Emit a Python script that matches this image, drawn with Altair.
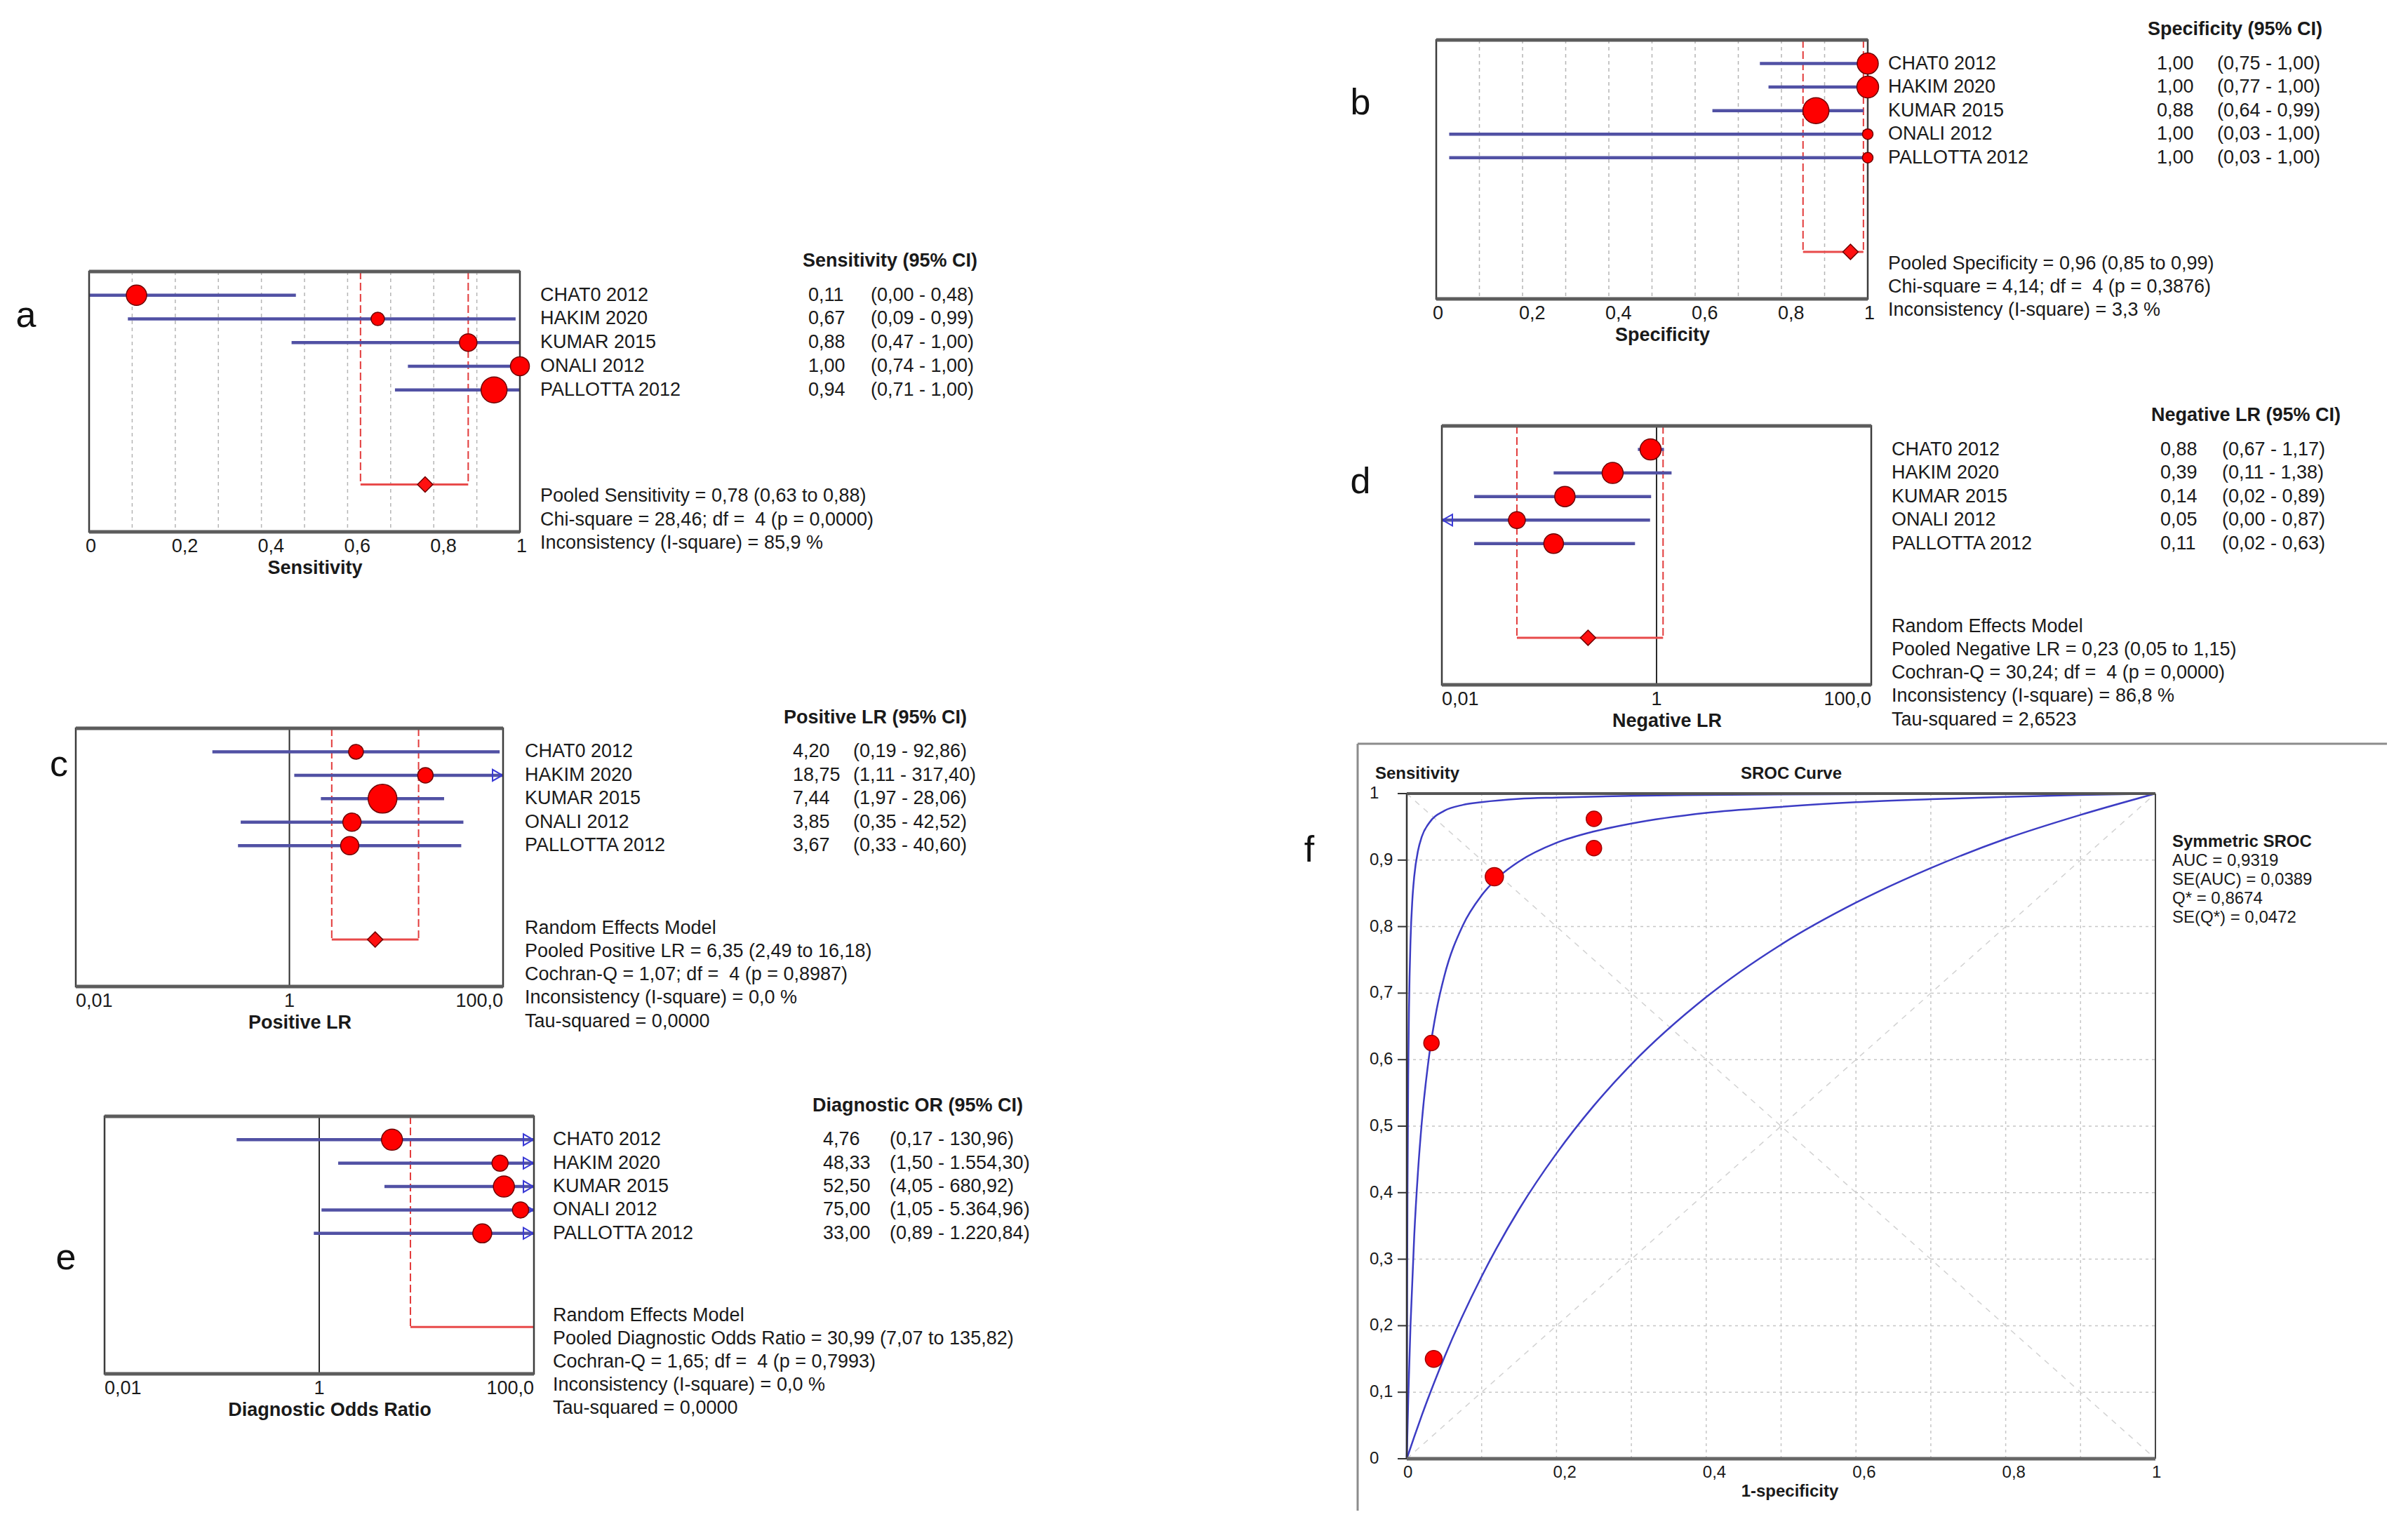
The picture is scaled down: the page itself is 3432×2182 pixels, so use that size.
import altair as alt
import pandas as pd

O = 8  # page margin of the html page
FONT = "Liberation Sans"
TXT = "#1a1a1a"
FS = 27
NB = "\u00a0"

# ---------------- data ----------------
STUDIES = ["CHAT0 2012", "HAKIM 2020", "KUMAR 2015", "ONALI 2012", "PALLOTTA 2012"]

SENS_EST = [0.11, 0.67, 0.88, 1.00, 0.94]
SENS_LO = [0.00, 0.09, 0.47, 0.74, 0.71]
SENS_HI = [0.48, 0.99, 1.00, 1.00, 1.00]
SENS_DIAM = [29, 19, 25, 27, 37]
SENS_POOLED = [0.78, 0.63, 0.88]
SENS_STATS = ["Pooled Sensitivity = 0,78 (0,63 to 0,88)",
              "Chi-square = 28,46; df =" + NB + " 4 (p = 0,0000)",
              "Inconsistency (I-square) = 85,9 %"]

SPEC_EST = [1.00, 1.00, 0.88, 1.00, 1.00]
SPEC_LO = [0.75, 0.77, 0.64, 0.03, 0.03]
SPEC_HI = [1.00, 1.00, 0.99, 1.00, 1.00]
SPEC_DIAM = [30, 31, 37, 15, 15]
SPEC_POOLED = [0.96, 0.85, 0.99]
SPEC_STATS = ["Pooled Specificity = 0,96 (0,85 to 0,99)",
              "Chi-square = 4,14; df =" + NB + " 4 (p = 0,3876)",
              "Inconsistency (I-square) = 3,3 %"]

PLR_EST = [4.20, 18.75, 7.44, 3.85, 3.67]
PLR_LO = [0.19, 1.11, 1.97, 0.35, 0.33]
PLR_HI = [92.86, 317.40, 28.06, 42.52, 40.60]
PLR_DIAM = [21, 22, 41, 26, 26]
PLR_POOLED = [6.35, 2.49, 16.18]
PLR_STATS = ["Random Effects Model",
             "Pooled Positive LR = 6,35 (2,49 to 16,18)",
             "Cochran-Q = 1,07; df =" + NB + " 4 (p = 0,8987)",
             "Inconsistency (I-square) = 0,0 %",
             "Tau-squared = 0,0000"]

NLR_EST = [0.88, 0.39, 0.14, 0.05, 0.11]
NLR_LO = [0.67, 0.11, 0.02, 0.004, 0.02]
NLR_HI = [1.17, 1.38, 0.89, 0.87, 0.63]
NLR_DIAM = [30, 30, 29, 24, 28]
NLR_POOLED = [0.23, 0.05, 1.15]
NLR_STATS = ["Random Effects Model",
             "Pooled Negative LR = 0,23 (0,05 to 1,15)",
             "Cochran-Q = 30,24; df =" + NB + " 4 (p = 0,0000)",
             "Inconsistency (I-square) = 86,8 %",
             "Tau-squared = 2,6523"]

DOR_EST = [4.76, 48.33, 52.50, 75.00, 33.00]
DOR_LO = [0.17, 1.50, 4.05, 1.05, 0.89]
DOR_HI = [130.96, 1554.30, 680.92, 5364.96, 1220.84]
DOR_DIAM = [30, 23, 30, 23, 27]
DOR_POOLED = [30.99, 7.07, 135.82]
DOR_STATS = ["Random Effects Model",
             "Pooled Diagnostic Odds Ratio = 30,99 (7,07 to 135,82)",
             "Cochran-Q = 1,65; df =" + NB + " 4 (p = 0,7993)",
             "Inconsistency (I-square) = 0,0 %",
             "Tau-squared = 0,0000"]

LIN_TICKS = [0, 0.2, 0.4, 0.6, 0.8, 1]
LIN_TICK_LABELS = ["0", "0,2", "0,4", "0,6", "0,8", "1"]
LIN_GRID = [0.1, 0.2, 0.3, 0.4, 0.5, 0.6, 0.7, 0.8, 0.9]
LOG_TICKS = [0.01, 1, 100]
LOG_TICK_LABELS = ["0,01", "1", "100,0"]

# SROC panel
SROC_X = [0.036, 0.033, 0.117, 0.250, 0.250]
SROC_Y = [0.150, 0.625, 0.875, 0.962, 0.918]
SROC_DIAM = [24, 22, 26, 22, 22]

TOP_FPR = [0, 0.0005, 0.001, 0.002, 0.003, 0.005, 0.0075, 0.01, 0.015, 0.02, 0.03, 0.05,
           0.075, 0.1, 0.15, 0.2, 0.3, 0.4, 0.5, 0.7, 1.0]
TOP_SENS = [0, 0.259, 0.412, 0.584, 0.678, 0.779, 0.841, 0.876, 0.914, 0.935, 0.956, 0.974,
            0.983, 0.987, 0.992, 0.994, 0.9967, 0.9979, 0.9986, 0.9994, 1.0]
MID_FPR = [0, 0.002, 0.005, 0.01, 0.015, 0.02, 0.03, 0.04, 0.05, 0.075, 0.1, 0.125, 0.15,
           0.2, 0.25, 0.3, 0.4, 0.5, 0.6, 0.7, 0.8, 0.9, 1.0]
MID_SENS = [0, 0.091, 0.201, 0.336, 0.432, 0.505, 0.607, 0.676, 0.725, 0.802, 0.847, 0.877,
            0.898, 0.926, 0.943, 0.955, 0.971, 0.980, 0.987, 0.9915, 0.995, 0.9978, 1.0]
LOW_FPR = [0, 0.01, 0.02, 0.05, 0.1, 0.15, 0.2, 0.25, 0.3, 0.4, 0.5, 0.6, 0.7, 0.8, 0.9, 1.0]
LOW_SENS = [0, 0.033, 0.065, 0.152, 0.274, 0.375, 0.459, 0.531, 0.593, 0.694, 0.773, 0.836,
            0.888, 0.932, 0.968, 1.0]

SROC_TICKS_Y = [0, 0.1, 0.2, 0.3, 0.4, 0.5, 0.6, 0.7, 0.8, 0.9, 1]
SROC_TICK_LABELS_Y = ["0", "0,1", "0,2", "0,3", "0,4", "0,5", "0,6", "0,7", "0,8", "0,9", "1"]
SROC_TICKS_X = [0, 0.2, 0.4, 0.6, 0.8, 1]
SROC_TICK_LABELS_X = ["0", "0,2", "0,4", "0,6", "0,8", "1"]
SROC_STATS = ["Symmetric SROC", "AUC = 0,9319", "SE(AUC) = 0,0389", "Q* = 0,8674", "SE(Q*) = 0,0472"]

ONE = pd.DataFrame({"k": [0]})


def fmt(v):
    s = f"{v:,.2f}"
    return s.replace(",", "#").replace(".", ",").replace("#", ".")


def forest(est, lo, hi, diam, pooled, stats, header, xtitle, box, cols, log, show_diamond=True):
    l, r, t, b = box
    name_x, val_x, ci_x, head_r = cols
    d0, d1 = (0.01, 100.0) if log else (0.0, 1.0)
    xsc = alt.Scale(type="log" if log else "linear", domain=[d0, d1], range=[l - O, r - O],
                    nice=False, zero=False, clamp=True)
    ysc = alt.Scale(domain=[-1, 10], range=[t - O, b - O], nice=False, zero=False)

    def X(f):
        return alt.X(f, scale=xsc, axis=None)

    def XD(v):
        return alt.XDatum(v, scale=xsc, axis=None)

    def Y(f):
        return alt.Y(f, scale=ysc, axis=None)

    def YD(v):
        return alt.YDatum(v, scale=ysc, axis=None)

    df = pd.DataFrame({
        "study": STUDIES, "row": list(range(len(STUDIES))),
        "est": est, "lo": lo, "hi": hi, "size": [d * d for d in diam],
        "val": [fmt(v) for v in est],
        "ci": [f"({fmt(a)} - {fmt(c)})" for a, c in zip(lo, hi)],
    })
    pool = pd.DataFrame({"est": [pooled[0]], "lo": [pooled[1]], "hi": [pooled[2]]})
    bounds = pd.DataFrame({"v": [v for v in pooled[1:] if d0 < v < d1]})

    layers = []
    if log:
        layers.append(alt.Chart(ONE).mark_rule(color="#2a2a2a", strokeWidth=2).encode(
            x=XD(1), y=YD(-1), y2=alt.Y2Datum(10)))
    else:
        layers.append(alt.Chart(pd.DataFrame({"g": LIN_GRID})).mark_rule(
            color="#b5b5b5", strokeWidth=1.5, strokeDash=[5, 5]).encode(
            x=X("g:Q"), y=YD(-1), y2=alt.Y2Datum(10)))
    layers.append(alt.Chart(bounds).mark_rule(color="#e23b3b", strokeWidth=2, strokeDash=[11, 5]).encode(
        x=X("v:Q"), y=YD(-1), y2=alt.Y2Datum(8)))
    layers.append(alt.Chart(pool).mark_rule(color="#e84a4a", strokeWidth=3).encode(
        x=X("lo:Q"), x2=alt.X2("hi:Q"), y=YD(8)))
    layers.append(alt.Chart(df).mark_rule(color="#5151a4", strokeWidth=4.5).encode(
        x=X("lo:Q"), x2=alt.X2("hi:Q"), y=Y("row:Q")))
    right = df[df["hi"] > d1]
    if len(right):
        layers.append(alt.Chart(right).mark_point(
            shape="triangle-right", filled=False, size=260, stroke="#3a3ad6", strokeWidth=2,
            xOffset=-8, opacity=1).encode(x=X("hi:Q"), y=Y("row:Q")))
    left = df[df["lo"] < d0]
    if len(left):
        layers.append(alt.Chart(left).mark_point(
            shape="triangle-left", filled=False, size=260, stroke="#3a3ad6", strokeWidth=2,
            xOffset=8, opacity=1).encode(x=X("lo:Q"), y=Y("row:Q")))
    # frame
    layers.append(alt.Chart(ONE).mark_rect(fillOpacity=0, stroke="#3c3c3c", strokeWidth=2.5).encode(
        x=XD(d0), x2=alt.X2Datum(d1), y=YD(-1), y2=alt.Y2Datum(10)))
    for yy in (-1, 10):
        layers.append(alt.Chart(ONE).mark_rule(color="#5c5c5c", strokeWidth=5).encode(
            x=XD(d0), x2=alt.X2Datum(d1), y=YD(yy)))
    # study points
    layers.append(alt.Chart(df).mark_point(
        shape="circle", filled=True, fill="#ff0000", stroke="#6e0000", strokeWidth=1.5, opacity=1).encode(
        x=X("est:Q"), y=Y("row:Q"), size=alt.Size("size:Q", scale=None, legend=None)))
    if show_diamond:
        layers.append(alt.Chart(pool).mark_point(
            shape="diamond", filled=True, fill="#ff1010", stroke="#700000", strokeWidth=1.5,
            size=480, opacity=1).encode(x=X("est:Q"), y=YD(8)))

    tstyle = dict(baseline="middle", font=FONT, fontSize=FS, color=TXT)
    layers.append(alt.Chart(df).mark_text(align="left", **tstyle).encode(
        x=alt.value(name_x - O), y=Y("row:Q"), text="study:N"))
    layers.append(alt.Chart(df).mark_text(align="left", **tstyle).encode(
        x=alt.value(val_x - O), y=Y("row:Q"), text="val:N"))
    layers.append(alt.Chart(df).mark_text(align="left", **tstyle).encode(
        x=alt.value(ci_x - O), y=Y("row:Q"), text="ci:N"))
    layers.append(alt.Chart(ONE).mark_text(align="right", fontWeight="bold", **tstyle).encode(
        x=alt.value(head_r - O), y=YD(-1.45), text=alt.value(header)))
    start = 8.5 if len(stats) == 3 else 7.52
    sdf = pd.DataFrame({"row": [start + 0.99 * i for i in range(len(stats))], "t": stats})
    layers.append(alt.Chart(sdf).mark_text(align="left", **tstyle).encode(
        x=alt.value(name_x - O), y=Y("row:Q"), text="t:N"))
    if log:
        for v, lab, al in zip(LOG_TICKS, LOG_TICK_LABELS, ["left", "center", "right"]):
            layers.append(alt.Chart(ONE).mark_text(align=al, **tstyle).encode(
                x=XD(v), y=YD(10.62), text=alt.value(lab)))
        centre = 1
    else:
        tdf = pd.DataFrame({"v": LIN_TICKS, "t": LIN_TICK_LABELS})
        layers.append(alt.Chart(tdf).mark_text(align="left", dx=-5, **tstyle).encode(
            x=X("v:Q"), y=YD(10.62), text="t:N"))
        centre = 0.5
    layers.append(alt.Chart(ONE).mark_text(align="center", fontWeight="bold", dx=15, **tstyle).encode(
        x=XD(centre), y=YD(11.55), text=alt.value(xtitle)))
    return alt.layer(*layers)


def sroc():
    L, R, T, B = 2005, 3072, 1131, 2079
    fx = alt.Scale(domain=[0, 1], range=[L - O, R - O], nice=False, zero=False)
    fy = alt.Scale(domain=[0, 1], range=[B - O, T - O], nice=False, zero=False)

    def X(f):
        return alt.X(f, scale=fx, axis=None)

    def XD(v):
        return alt.XDatum(v, scale=fx, axis=None)

    def Y(f):
        return alt.Y(f, scale=fy, axis=None)

    def YD(v):
        return alt.YDatum(v, scale=fy, axis=None)

    fs = 24
    tstyle = dict(baseline="middle", font=FONT, fontSize=fs, color=TXT)
    grid = pd.DataFrame({"g": LIN_GRID})
    curves = pd.DataFrame({
        "curve": ["top"] * len(TOP_FPR) + ["mid"] * len(MID_FPR) + ["low"] * len(LOW_FPR),
        "fpr": TOP_FPR + MID_FPR + LOW_FPR,
        "sens": TOP_SENS + MID_SENS + LOW_SENS,
    })
    pts = pd.DataFrame({"x": SROC_X, "y": SROC_Y, "size": [d * d for d in SROC_DIAM]})
    yt = pd.DataFrame({"v": SROC_TICKS_Y, "t": SROC_TICK_LABELS_Y})
    xt = pd.DataFrame({"v": SROC_TICKS_X, "t": SROC_TICK_LABELS_X})

    layers = [
        alt.Chart(grid).mark_rule(color="#c6c6c6", strokeWidth=1.5, strokeDash=[4, 5]).encode(
            x=X("g:Q"), y=YD(0), y2=alt.Y2Datum(1)),
        alt.Chart(grid).mark_rule(color="#c6c6c6", strokeWidth=1.5, strokeDash=[4, 5]).encode(
            y=Y("g:Q"), x=XD(0), x2=alt.X2Datum(1)),
        alt.Chart(ONE).mark_rule(color="#d2d2d2", strokeWidth=1.5, strokeDash=[8, 8]).encode(
            x=XD(0), y=YD(0), x2=alt.X2Datum(1), y2=alt.Y2Datum(1)),
        alt.Chart(ONE).mark_rule(color="#d2d2d2", strokeWidth=1.5, strokeDash=[8, 8]).encode(
            x=XD(0), y=YD(1), x2=alt.X2Datum(1), y2=alt.Y2Datum(0)),
        alt.Chart(curves).mark_line(color="#3c3cc4", strokeWidth=2.5, interpolate="monotone").encode(
            x=X("fpr:Q"), y=Y("sens:Q"), detail="curve:N"),
        alt.Chart(ONE).mark_rule(color="#333333", strokeWidth=2.5).encode(
            x=XD(0), y=YD(0), y2=alt.Y2Datum(1)),
        alt.Chart(ONE).mark_rule(color="#444444", strokeWidth=2).encode(
            x=XD(1), y=YD(0), y2=alt.Y2Datum(1)),
        alt.Chart(ONE).mark_rule(color="#555555", strokeWidth=4).encode(
            y=YD(1), x=XD(0), x2=alt.X2Datum(1)),
        alt.Chart(ONE).mark_rule(color="#666666", strokeWidth=5).encode(
            y=YD(0), x=XD(0), x2=alt.X2Datum(1)),
        alt.Chart(yt).mark_rule(color="#333333", strokeWidth=2).encode(
            x=alt.value(1992 - O), x2=alt.value(L - O), y=Y("v:Q")),
        alt.Chart(yt).mark_text(align="left", **tstyle).encode(
            x=alt.value(1952 - O), y=Y("v:Q"), text="t:N"),
        alt.Chart(xt).mark_text(align="left", dx=-5, **tstyle).encode(
            x=X("v:Q"), y=alt.value(2099 - O), text="t:N"),
        alt.Chart(pts).mark_point(shape="circle", filled=True, fill="#ff0000", stroke="#a00000",
                                  strokeWidth=1.5, opacity=1).encode(
            x=X("x:Q"), y=Y("y:Q"), size=alt.Size("size:Q", scale=None, legend=None)),
        alt.Chart(ONE).mark_text(align="left", fontWeight="bold", **tstyle).encode(
            x=alt.value(1960 - O), y=alt.value(1103 - O), text=alt.value("Sensitivity")),
        alt.Chart(ONE).mark_text(align="center", fontWeight="bold", **tstyle).encode(
            x=alt.value(2553 - O), y=alt.value(1103 - O), text=alt.value("SROC Curve")),
        alt.Chart(ONE).mark_text(align="center", fontWeight="bold", **tstyle).encode(
            x=alt.value(2551 - O), y=alt.value(2126 - O), text=alt.value("1-specificity")),
    ]
    for i, line in enumerate(SROC_STATS):
        layers.append(alt.Chart(ONE).mark_text(
            align="left", fontWeight="bold" if i == 0 else "normal", **tstyle).encode(
            x=alt.value(3096 - O), y=alt.value(1200 + 27 * i - O), text=alt.value(line)))
    return alt.layer(*layers)


pa = forest(SENS_EST, SENS_LO, SENS_HI, SENS_DIAM, SENS_POOLED, SENS_STATS,
            "Sensitivity (95% CI)", "Sensitivity",
            (127, 741, 387, 758), (770, 1152, 1241, 1393), log=False)
pb = forest(SPEC_EST, SPEC_LO, SPEC_HI, SPEC_DIAM, SPEC_POOLED, SPEC_STATS,
            "Specificity (95% CI)", "Specificity",
            (2047, 2662, 57, 426), (2691, 3074, 3160, 3310), log=False)
pc = forest(PLR_EST, PLR_LO, PLR_HI, PLR_DIAM, PLR_POOLED, PLR_STATS,
            "Positive LR (95% CI)", "Positive LR",
            (108, 717, 1038, 1406), (748, 1130, 1216, 1378), log=True)
pdn = forest(NLR_EST, NLR_LO, NLR_HI, NLR_DIAM, NLR_POOLED, NLR_STATS,
             "Negative LR (95% CI)", "Negative LR",
             (2055, 2667, 607, 976), (2696, 3079, 3167, 3336), log=True)
pe = forest(DOR_EST, DOR_LO, DOR_HI, DOR_DIAM, DOR_POOLED, DOR_STATS,
            "Diagnostic OR (95% CI)", "Diagnostic Odds Ratio",
            (149, 761, 1591, 1958), (788, 1173, 1268, 1458), log=True, show_diamond=False)
pf = sroc()

extras = []
for letter, lx, ly in [("a", 37, 450), ("b", 1939, 147), ("c", 84, 1090),
                       ("d", 1939, 687), ("e", 94, 1793), ("f", 1866, 1212)]:
    extras.append(alt.Chart(ONE).mark_text(align="center", baseline="middle", font=FONT,
                                           fontSize=52, color="#111111").encode(
        x=alt.value(lx - O), y=alt.value(ly - O), text=alt.value(letter)))
# outer frame of the SROC picture
extras.append(alt.Chart(ONE).mark_rule(color="#8c8c8c", strokeWidth=3).encode(
    x=alt.value(1935 - O), x2=alt.value(3402 - O), y=alt.value(1060 - O)))
extras.append(alt.Chart(ONE).mark_rule(color="#8c8c8c", strokeWidth=3).encode(
    x=alt.value(1935 - O), y=alt.value(1060 - O), y2=alt.value(2153 - O)))

chart = alt.layer(pa, pb, pc, pdn, pe, pf, *extras).resolve_scale(
    x="independent", y="independent"
).properties(
    width=3416, height=2166, autosize=alt.AutoSizeParams(type="none"), padding=0, background="white"
).configure_view(stroke=None)

chart.save("out.html", embed_options={"renderer": "svg", "actions": False})
